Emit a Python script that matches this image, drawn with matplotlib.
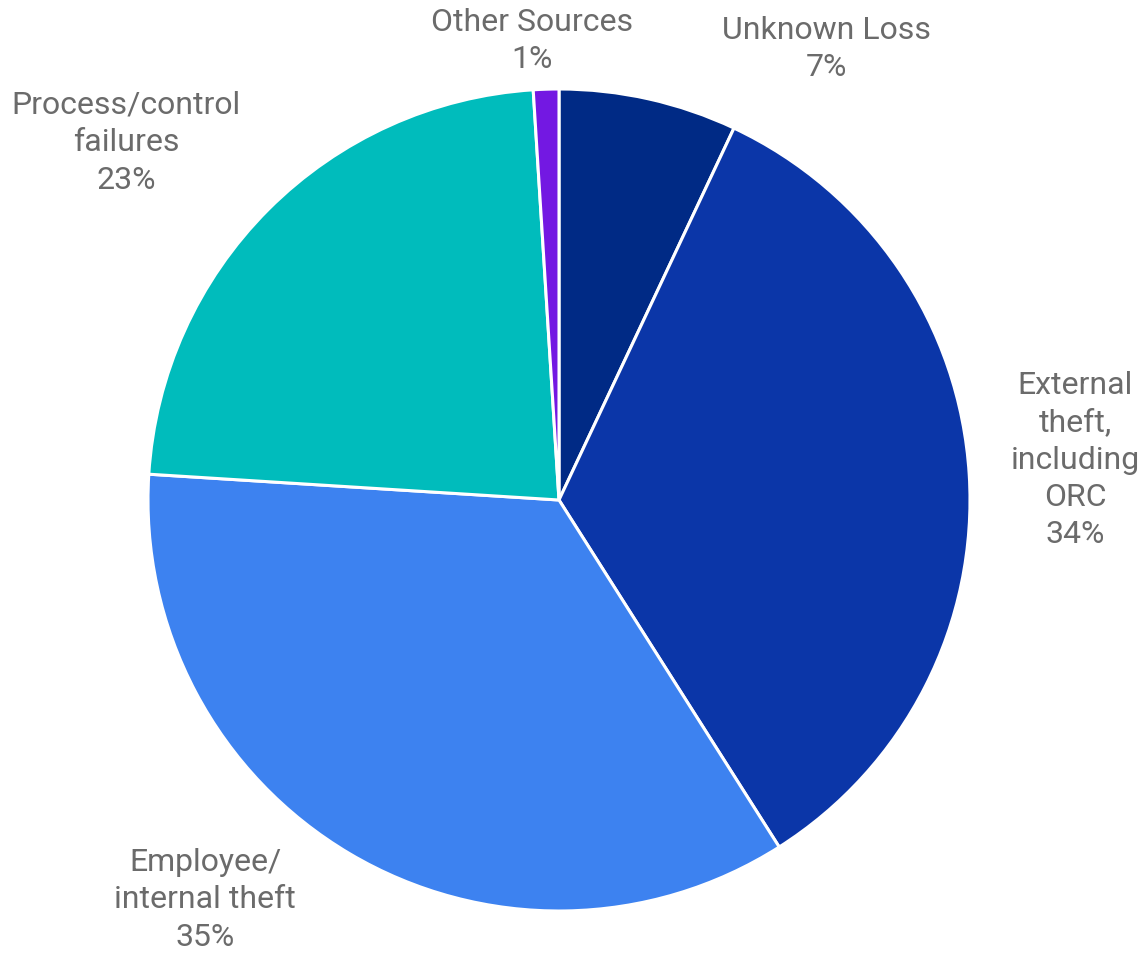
import matplotlib
matplotlib.use('Agg')
import matplotlib.pyplot as plt

# shrink sources, clockwise from 12 o'clock
labels = ['Unknown Loss', 'External\ntheft,\nincluding\nORC', 'Employee/\ninternal theft',
          'Process/control\nfailures', 'Other Sources']
shares = [7, 34, 35, 23, 1]
colors = ['#002a85', '#0b36a8', '#3d82f0', '#00bcbc', '#7318e2']

W, H = 1145, 954
fig = plt.figure(figsize=(W / 100, H / 100), dpi=100)
ax = fig.add_axes([0, 0, 1, 1])

cx, cy, r = 559, H - 501, 411
ax.pie(shares, colors=colors, startangle=90, counterclock=False,
       center=(cx, cy), radius=r, frame=True,
       wedgeprops=dict(edgecolor='white', linewidth=2.2))
ax.set_xlim(0, W)
ax.set_ylim(0, H)
ax.set_aspect('equal')
ax.axis('off')

# label anchor points (top of each text block)
label_pos = [(826, 16), (1075, 371), (205, 848), (126, 91), (532, 8)]
for lab, val, (x, y) in zip(labels, shares, label_pos):
    ax.text(x, H - y, f'{lab}\n{val}%', ha='center', va='top',
            fontsize=23, color='#6b6b6b', family='Roboto',
            linespacing=1.36)

fig.savefig('out.png', dpi=100)
